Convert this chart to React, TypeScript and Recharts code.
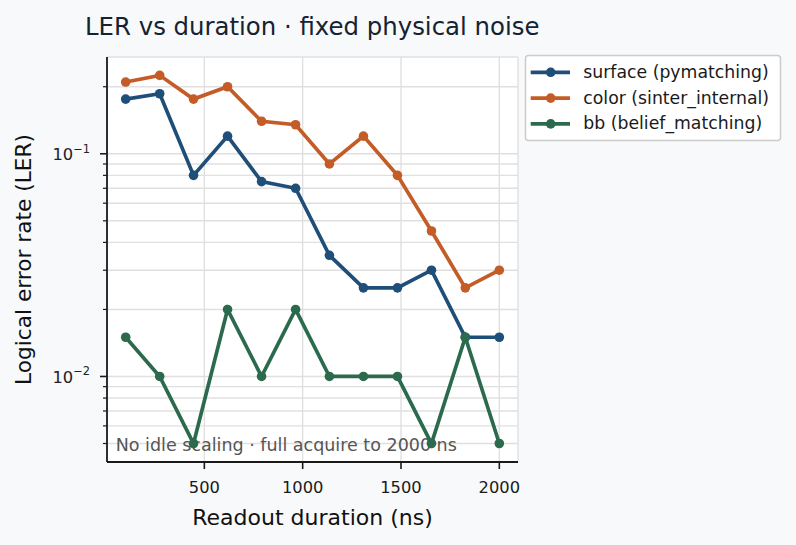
import React from 'react';
import { LineChart, Line, XAxis, YAxis, CartesianGrid } from 'recharts';

// readout durations (ns) and logical error rate per decoder
const durations = [100, 273, 445, 618, 791, 964, 1136, 1309, 1482, 1655, 1827, 2000];
const surfaceLer = [0.176, 0.186, 0.08, 0.12, 0.075, 0.07, 0.035, 0.025, 0.025, 0.03, 0.015, 0.015];
const colorLer = [0.21, 0.225, 0.176, 0.2, 0.14, 0.135, 0.09, 0.12, 0.08, 0.045, 0.025, 0.03];
const bbLer = [0.015, 0.01, 0.005, 0.02, 0.01, 0.02, 0.01, 0.01, 0.01, 0.005, 0.015, 0.005];

const xTicks = [500, 1000, 1500, 2000];
// log axis: decades get a label, the rest are minor ticks
const yTicks = [
  0.005, 0.006, 0.007, 0.008, 0.009, 0.01,
  0.02, 0.03, 0.04, 0.05, 0.06, 0.07, 0.08, 0.09, 0.1, 0.2,
];

const series = [
  { key: 'surface', name: 'surface (pymatching)', color: '#1f4e79', values: surfaceLer },
  { key: 'color', name: 'color (sinter_internal)', color: '#c45c28', values: colorLer },
  { key: 'bb', name: 'bb (belief_matching)', color: '#2c6a4e', values: bbLer },
];

const rows = durations.map((x, i) => {
  const row: Record<string, number> = { x };
  series.forEach((s) => {
    row[s.key] = s.values[i];
  });
  return row;
});

const FONT = '"DejaVu Sans", sans-serif';
const INK = '#1a1a1a';
const LINE_W = 3.7;
const DOT_R = 4.8;

function LogTick({ x, y, payload }: any) {
  const lg = Math.log10(payload.value);
  const exp = Math.round(lg);
  const major = Math.abs(lg - exp) < 1e-6;
  return (
    <g>
      <line x1={x - (major ? 7 : 4)} x2={x} y1={y} y2={y} stroke={INK} strokeWidth={major ? 1.6 : 1.2} />
      {major && (
        <text x={x - 17} y={y + 6.5} textAnchor="end" fontSize={16.3} fill="#222">
          10
          <tspan dy={-7.5} fontSize={11.4}>
            {'\u2212' + Math.abs(exp)}
          </tspan>
        </text>
      )}
    </g>
  );
}

function LegendBox() {
  return (
    <svg width={260} height={90} style={{ position: 'absolute', left: 524, top: 54 }}>
      <rect x={1.5} y={1.5} width={255} height={85} rx={3} fill="#ffffff" stroke="#cccccc" strokeWidth={1.5} />
      {series.map((s, i) => {
        const cy = 18.3 + i * 25.8;
        return (
          <g key={s.key}>
            <line x1={6.7} x2={46} y1={cy} y2={cy} stroke={s.color} strokeWidth={LINE_W} />
            <circle cx={26.7} cy={cy} r={DOT_R} fill={s.color} />
            <text x={59.3} y={cy + 5.5} fontSize={17.3} fill="#1a1a1a">
              {s.name}
            </text>
          </g>
        );
      })}
    </svg>
  );
}

export default function App() {
  return (
    <div
      style={{
        position: 'absolute',
        left: 0,
        top: 0,
        width: 796,
        height: 545,
        background: '#f7f9fb',
        fontFamily: FONT,
      }}
    >
      <LineChart width={796} height={545} data={rows} margin={{ top: 57, right: 278, bottom: 0, left: 0 }}>
        <CartesianGrid fill="#ffffff" stroke="#e0e0e0" strokeWidth={1.4} />
        <XAxis
          dataKey="x"
          type="number"
          domain={[5, 2095]}
          ticks={xTicks}
          allowDataOverflow
          height={83}
          tickSize={7}
          tickMargin={12}
          tick={{ fontSize: 16.3, fill: '#1a1a1a' }}
          axisLine={{ stroke: INK, strokeWidth: 1.8 }}
          tickLine={{ stroke: INK, strokeWidth: 1.6 }}
        />
        <YAxis
          scale="log"
          type="number"
          domain={[0.00413, 0.272]}
          ticks={yTicks}
          allowDataOverflow
          width={107}
          tickSize={0}
          tickMargin={0}
          tickLine={false}
          tick={<LogTick />}
          interval={0}
          axisLine={{ stroke: INK, strokeWidth: 1.8 }}
        />
        <text x={85} y={35} fontSize={24.4} fill="#152232">
          LER vs duration · fixed physical noise
        </text>
        <text x={312.5} y={525} textAnchor="middle" fontSize={22} fill="#111">
          Readout duration (ns)
        </text>
        <text x={31} y={259.5} textAnchor="middle" fontSize={21.7} fill="#111" transform="rotate(-90 31 259.5)">
          Logical error rate (LER)
        </text>
        <text x={115.7} y={451} fontSize={17.5} fill="#555">
          No idle scaling · full acquire to 2000 ns
        </text>
        {series.map((s) => (
          <Line
            key={s.key}
            dataKey={s.key}
            name={s.name}
            stroke={s.color}
            strokeWidth={LINE_W}
            dot={{ r: DOT_R, fill: s.color, stroke: s.color, strokeWidth: 0 }}
            activeDot={false}
            isAnimationActive={false}
          />
        ))}
      </LineChart>
      <LegendBox />
    </div>
  );
}
